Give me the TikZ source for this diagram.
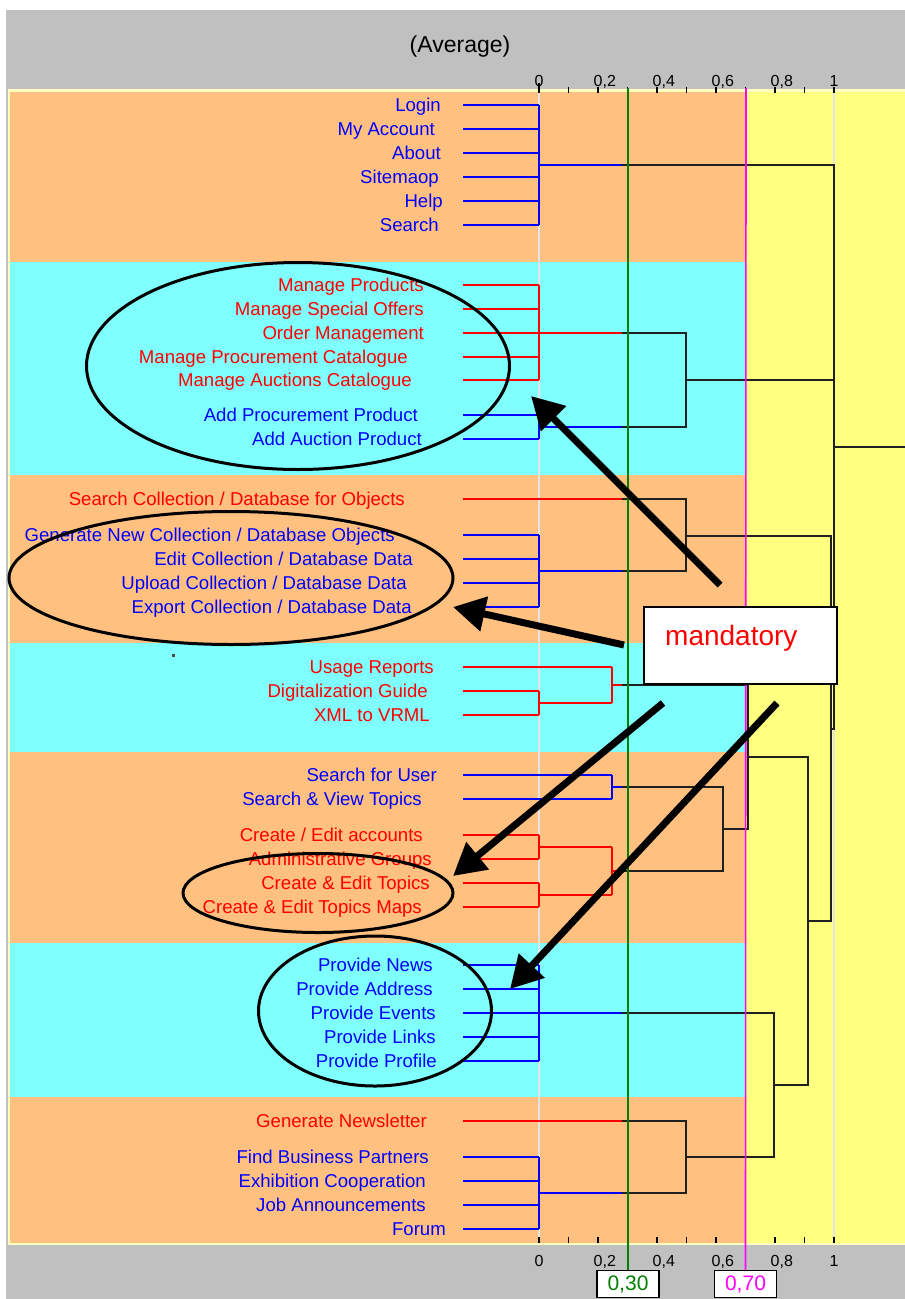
\documentclass[tikz,border=0pt]{standalone}
\usepackage{fontspec}
\setmainfont{Liberation Sans}
\usetikzlibrary{arrows.meta,shapes.geometric}
\definecolor{bandorange}{HTML}{FFC080}
\definecolor{bandcyan}{HTML}{80FFFF}
\definecolor{plotyellow}{HTML}{FFFF80}
\definecolor{rimyellow}{HTML}{FFFFC0}
\definecolor{panelgray}{HTML}{C0C0C0}
\definecolor{gridgray}{HTML}{E4E4E4}
\definecolor{cutgreen}{HTML}{008000}
\definecolor{cutmagenta}{HTML}{FF00FF}
\definecolor{linkblack}{HTML}{202020}

% one leaf: name, colour, label right end, y, text, x of first merge
\newcommand\leafrow[6]{%
  \node[lbl,text=#2] (#1) at (#3,#4+6) {#5};
  \coordinate (#1-s) at (463,#4);
  \draw[line width=2pt,draw=#2] (#1-s) -- (#6,#4);
}

\begin{document}
\begin{tikzpicture}[x=1pt,y=-1pt,
  lbl/.style={anchor=base east,inner sep=0pt,font=\fontsize{18.6}{20}\selectfont},
  bl/.style={draw=blue,line width=2pt},
  rd/.style={draw=red,line width=2pt},
  bk/.style={draw=linkblack,line width=2pt,line join=miter},
  tick/.style={draw=black,line width=1.6pt},
  ticklbl/.style={anchor=base west,inner sep=0pt,font=\fontsize{16}{17}\selectfont},
  ring/.style={draw=black,line width=3pt,ellipse,inner sep=0pt},
  pointer/.style={draw=black,line width=7pt,-{Triangle[length=32pt,width=34pt]}},
  cutbox/.style={draw=black,line width=1.5pt,fill=white,minimum width=62pt,minimum height=27pt,inner sep=0pt,font=\fontsize{21}{22}\selectfont}]

\useasboundingbox (0,0) rectangle (905,1299);
\fill[white] (0,0) rectangle (905,1299);
\fill[panelgray] (6,10) rectangle (905,1299);

% plot area and group bands
\fill[rimyellow] (8,89) rectangle (905,1245);
\fill[plotyellow] (10,92) rectangle (905,1243);
\fill[bandorange] (10,92) rectangle (745,262);
\fill[bandcyan]   (10,262) rectangle (745,475);
\fill[bandorange] (10,475) rectangle (745,643);
\fill[bandcyan]   (10,643) rectangle (745,752);
\fill[bandorange] (10,752) rectangle (745,943);
\fill[bandcyan]   (10,943) rectangle (745,1097);
\fill[bandorange] (10,1097) rectangle (745,1243);

% grid lines at 0 and 1
\draw[gridgray,line width=2pt] (539,92) -- (539,1243);
\draw[gridgray,line width=2pt] (834,92) -- (834,1243);

% title and axes
\node[font=\fontsize{23}{25}\selectfont,inner sep=0pt] (title) at (460,47) {(Average)};
\foreach \i in {0,...,10} {
  \draw[tick] (539+29.5*\i,87) -- (539+29.5*\i,93);
  \draw[tick] (539+29.5*\i,1237) -- (539+29.5*\i,1243);
}
\draw[tick] (539,83) -- (539,93);
\foreach \v/\t in {0/0,2/{0,2},4/{0,4},6/{0,6},8/{0,8},10/1} {
  \node[ticklbl] at (534.5+29.5*\v,86) {\t};
  \node[ticklbl] at (534.5+29.5*\v,1266) {\t};
}

% leaves
\leafrow{login}{blue}{441}{105}{Login}{539}
\leafrow{account}{blue}{435}{129}{My Account}{539}
\leafrow{about}{blue}{441}{153}{About}{539}
\leafrow{sitemap}{blue}{439}{177}{Sitemaop}{539}
\leafrow{help}{blue}{443}{201}{Help}{539}
\leafrow{search}{blue}{439}{225}{Search}{539}

\leafrow{mprod}{red}{424}{285}{Manage Products}{539}
\leafrow{moffer}{red}{424}{309}{Manage Special Offers}{539}
\leafrow{order}{red}{424}{333}{Order Management}{539}
\leafrow{mproc}{red}{408}{357}{Manage Procurement Catalogue}{539}
\leafrow{mauct}{red}{412}{380}{Manage Auctions Catalogue}{539}
\leafrow{aproc}{blue}{418}{415}{Add Procurement Product}{539}
\leafrow{aauct}{blue}{422}{439}{Add Auction Product}{539}

\leafrow{scoll}{red}{405}{499}{Search Collection / Database for Objects}{622}
\leafrow{gcoll}{blue}{395}{535}{Generate New Collection / Database Objects}{539}
\leafrow{ecoll}{blue}{413}{559}{Edit Collection / Database Data}{539}
\leafrow{ucoll}{blue}{407}{583}{Upload Collection / Database Data}{539}
\leafrow{xcoll}{blue}{412}{607}{Export Collection / Database Data}{539}

\leafrow{usage}{red}{434}{667}{Usage Reports}{612}
\leafrow{digit}{red}{428}{691}{Digitalization Guide}{539}
\leafrow{vrml}{red}{430}{715}{XML to VRML}{539}

\leafrow{suser}{blue}{437}{775}{Search for User}{612}
\leafrow{stopic}{blue}{422}{799}{Search \& View Topics}{612}
\leafrow{cacc}{red}{423}{835}{Create / Edit accounts}{539}
\leafrow{agroup}{red}{432}{859}{Administrative Groups}{539}
\leafrow{ctopic}{red}{430}{883}{Create \& Edit Topics}{539}
\leafrow{cmaps}{red}{422}{907}{Create \& Edit Topics Maps}{539}

\leafrow{pnews}{blue}{433}{965}{Provide News}{539}
\leafrow{paddr}{blue}{433}{989}{Provide Address}{539}
\leafrow{pevent}{blue}{436}{1013}{Provide Events}{539}
\leafrow{plinks}{blue}{436}{1037}{Provide Links}{539}
\leafrow{pprof}{blue}{437}{1061}{Provide Profile}{539}

\leafrow{gnews}{red}{427}{1121}{Generate Newsletter}{622}
\leafrow{fbp}{blue}{429}{1157}{Find Business Partners}{539}
\leafrow{exco}{blue}{426}{1181}{Exhibition Cooperation}{539}
\leafrow{jobs}{blue}{426}{1205}{Job Announcements}{539}
\leafrow{forum}{blue}{446}{1229}{Forum}{539}

% clusters below the 0.30 cut (coloured)
\draw[bl] (539,105) -- (539,225);  \draw[bl] (539,165) -- (622,165);
\draw[rd] (539,285) -- (539,380);  \draw[rd] (539,333) -- (622,333);
\draw[bl] (539,415) -- (539,439);  \draw[bl] (539,427) -- (622,427);
\draw[bl] (539,535) -- (539,607);  \draw[bl] (539,571) -- (622,571);
\draw[rd] (539,691) -- (539,715);  \draw[rd] (539,703) -- (612,703);
\draw[rd] (612,667) -- (612,703);  \draw[rd] (612,685) -- (622,685);
\draw[bl] (612,775) -- (612,799);  \draw[bl] (612,787) -- (622,787);
\draw[rd] (539,835) -- (539,859);  \draw[rd] (539,847) -- (612,847);
\draw[rd] (539,883) -- (539,907);  \draw[rd] (539,895) -- (612,895);
\draw[rd] (612,847) -- (612,895);  \draw[rd] (612,871) -- (622,871);
\draw[bl] (539,965) -- (539,1061); \draw[bl] (539,1013) -- (622,1013);
\draw[bl] (539,1157) -- (539,1229); \draw[bl] (539,1193) -- (622,1193);

% links above the cut (black)
\draw[bk] (622,333) -- (686,333) -- (686,427) -- (622,427);
\draw[bk] (622,499) -- (686,499) -- (686,571) -- (622,571);
\draw[bk] (622,787) -- (723,787) -- (723,871) -- (622,871);
\draw[bk] (622,685) -- (748,685) -- (748,829) -- (723,829);
\draw[bk] (622,1121) -- (686,1121) -- (686,1193) -- (622,1193);
\draw[bk] (622,1013) -- (774,1013) -- (774,1157) -- (686,1157);
\draw[bk] (748,757) -- (808,757) -- (808,1085) -- (774,1085);
\draw[bk] (686,536) -- (831,536) -- (831,921) -- (808,921);
\draw[bk] (622,165) -- (834,165) -- (834,729) -- (831,729);
\draw[bk] (686,380) -- (834,380);
\draw[bk] (834,447) -- (905,447);

% cut lines and their values
\node[cutbox,text=cutgreen] (cut30) at (628,1284) {0,30};
\node[cutbox,text=cutmagenta] (cut70) at (745.5,1284) {0,70};
\coordinate (cut30top) at (628,88);
\coordinate (cut70top) at (746,88);
\draw[cutgreen,line width=1.6pt] (cut30top) -- (cut30.north);
\draw[cutmagenta,line width=1.6pt] (cut70top) -- (cut70.north);

\fill[black!70] (172,654) rectangle (175,657);

% highlighted groups
\node[ring,minimum width=423pt,minimum height=207pt] (ring1) at (298,366) {};
\node[ring,minimum width=444pt,minimum height=133pt] (ring2) at (231,578) {};
\node[ring,minimum width=270pt,minimum height=79pt] (ring3) at (318,893) {};
\node[ring,minimum width=233pt,minimum height=150pt] (ring4) at (375,1011) {};

% callout
\node[draw=black,line width=2pt,fill=white,minimum width=193pt,minimum height=77pt,inner sep=0pt] (mand) at (740.5,645.5) {};
\node[anchor=base west,inner sep=0pt,text=red,font=\fontsize{28}{30}\selectfont] (mandtext) at (665,645) {mandatory};

\coordinate (p1a) at (720,585);  \coordinate (p1b) at (531,396);
\coordinate (p2a) at (624,645);  \coordinate (p2b) at (453,607);
\coordinate (p3a) at (663,703);  \coordinate (p3b) at (453,876);
\coordinate (p4a) at (777,703);  \coordinate (p4b) at (510,989);
\draw[pointer] (p1a) -- (p1b);
\draw[pointer] (p2a) -- (p2b);
\draw[pointer] (p3a) -- (p3b);
\draw[pointer] (p4a) -- (p4b);
\end{tikzpicture}
\end{document}
